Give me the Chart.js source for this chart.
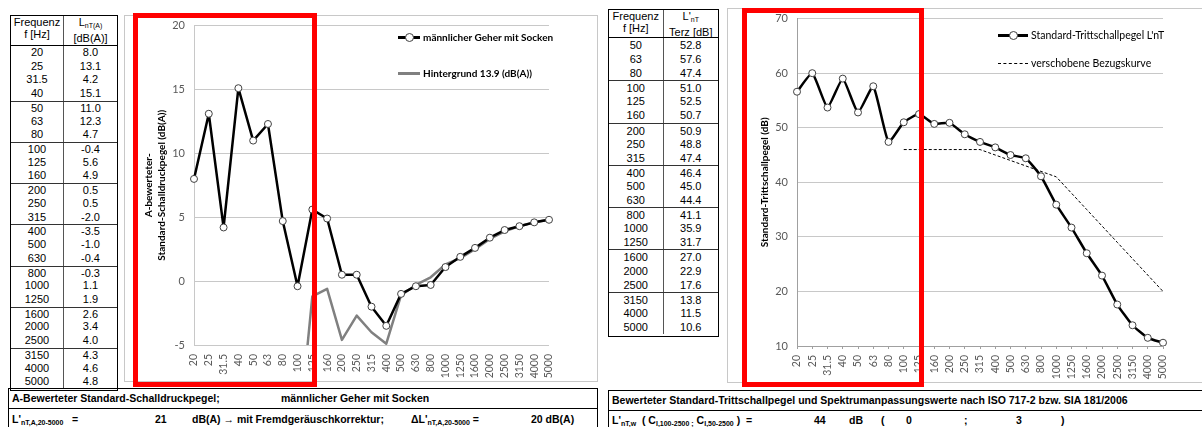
<!DOCTYPE html>
<html>
<head>
<meta charset="utf-8">
<script src="https://cdn.jsdelivr.net/npm/chart.js@4.4.1/dist/chart.umd.min.js"></script>
<style>
  body { margin: 0; width: 1202px; height: 427px; position: relative; overflow: hidden; background: #fff;
         font-family: "Liberation Sans", Arial, sans-serif; color: #000; }
  .abs { position: absolute; }
  .tbl { position: absolute; border: 1.5px solid #000; font-size: 11px; box-sizing: border-box; }
  .row { display: flex; box-sizing: border-box; }
  .row div { box-sizing: border-box; text-align: center; }
  .row div:first-child { border-right: 1px solid #555; }
  .hdr { border-bottom: 1px solid #000; line-height: 12px; overflow: hidden; }
  .sep { border-top: 1px solid #333; }
  .box { position: absolute; border: 1px solid #c8c8c8; box-sizing: border-box; }
  .red { position: absolute; border: 5.5px solid #ff0000; box-sizing: border-box; }
  .lg { position: absolute; font-family: Lato, sans-serif; font-size: 10px; white-space: nowrap; line-height: 12px; }
  .bottom { position: absolute; border: 1.5px solid #000; box-sizing: border-box; font-weight: bold; font-size: 10.5px; }
  .bottom .r1 { height: 19px; border-bottom: 1.5px solid #000; position: relative; }
  .bottom .r2 { height: 22px; position: relative; }
  .bottom span { position: absolute; white-space: nowrap; }
  sub { font-size: 7px; vertical-align: -2px; }
</style>
</head>
<body>

<!-- left panel -->
<div id="tblLeft" class="tbl" style="left:10px;top:15px;width:108px;height:376px;"></div>
<div class="box" style="left:124px;top:15px;width:474px;height:367px;"></div>
<canvas id="leftChart" class="abs" style="left:124px;top:10px;"></canvas>
<div class="abs" style="left:398px;top:36px;width:22px;height:3px;background:#000"></div>
<div class="abs" style="left:405px;top:33px;width:7px;height:7px;border:1px solid #404040;border-radius:50%;background:#fff"></div>
<div class="lg" style="left:423px;top:31px;font-weight:bold">männlicher Geher mit Socken</div>
<div class="abs" style="left:398px;top:72px;width:22px;height:3px;background:#808080"></div>
<div class="lg" style="left:423px;top:67px;font-weight:bold">Hintergrund 13.9 (dB(A))</div>
<div class="red" style="left:133px;top:13px;width:184px;height:374px;"></div>

<div class="bottom" style="left:8px;top:388px;width:590px;height:50px;">
  <div class="r1">
    <span style="left:3px;top:3px">A-Bewerteter Standard-Schalldruckpegel;</span>
    <span style="left:272px;top:3px">männlicher Geher mit Socken</span>
  </div>
  <div class="r2">
    <span style="left:3px;top:4px">L'<sub>nT,A,20-5000</sub> &nbsp;&nbsp;=</span>
    <span style="left:146px;top:4px">21</span>
    <span style="left:183px;top:4px">dB(A) → mit Fremdgeräuschkorrektur;</span>
    <span style="left:402px;top:4px">ΔL'<sub>nT,A,20-5000</sub> =</span>
    <span style="left:522px;top:4px">20 dB(A)</span>
  </div>
</div>

<!-- right panel -->
<div id="tblRight" class="tbl" style="left:608px;top:9px;width:111px;height:328px;"></div>
<div class="box" style="left:727px;top:8px;width:480px;height:375px;"></div>
<canvas id="rightChart" class="abs" style="left:727px;top:3px;"></canvas>
<div class="abs" style="left:998px;top:34px;width:30px;height:3px;background:#000"></div>
<div class="abs" style="left:1009px;top:31px;width:7px;height:7px;border:1px solid #404040;border-radius:50%;background:#fff"></div>
<div class="lg" style="left:1031px;top:29px;font-size:10.5px">Standard-Trittschallpegel L'nT</div>
<div class="abs" style="left:998px;top:63px;width:30px;height:0;border-top:1px dashed #000"></div>
<div class="lg" style="left:1031px;top:57px;font-size:10.5px">verschobene Bezugskurve</div>
<div class="red" style="left:742px;top:8px;width:182px;height:379px;"></div>

<div class="bottom" style="left:608px;top:390px;width:600px;height:50px;">
  <div class="r1">
    <span style="left:3px;top:3px">Bewerteter Standard-Trittschallpegel und Spektrumanpassungswerte nach ISO 717-2 bzw. SIA 181/2006</span>
  </div>
  <div class="r2">
    <span style="left:3px;top:3px">L'<sub>nT,w</sub> &nbsp;( C<sub>I,100-2500 ;</sub> C<sub>I,50-2500</sub> ) &nbsp;=</span>
    <span style="left:205px;top:3px">44</span>
    <span style="left:240px;top:3px">dB</span>
    <span style="left:272px;top:3px">(</span>
    <span style="left:297px;top:3px">0</span>
    <span style="left:355px;top:3px">;</span>
    <span style="left:407px;top:3px">3</span>
    <span style="left:452px;top:3px">)</span>
  </div>
</div>

<script>
// third-octave bands shown on both charts
const freqLabels = ['20', '25', '31.5', '40', '50', '63', '80', '100', '125', '160', '200', '250', '315',
  '400', '500', '630', '800', '1000', '1250', '1600', '2000', '2500', '3150', '4000', '5000'];

// left: A-weighted standard sound pressure level, walker with socks
const walkerLevels = [8.0, 13.1, 4.2, 15.1, 11.0, 12.3, 4.7, -0.4, 5.6, 4.9, 0.5, 0.5, -2.0,
  -3.5, -1.0, -0.4, -0.3, 1.1, 1.9, 2.6, 3.4, 4.0, 4.3, 4.6, 4.8];
// background noise
const backgroundLevels = [null, null, null, null, null, null, null, -13, -1.2, -0.6, -4.6, -2.7, -4.0,
  -4.9, -1.1, -0.3, 0.3, 1.3, 1.8, 2.5, 3.3, 3.9, 4.3, 4.6, 4.8];

// right: standard impact sound level L'nT
const impactLevels = [56.6, 60.0, 53.7, 59.0, 52.8, 57.6, 47.4, 51.0, 52.5, 50.7, 50.9, 48.8, 47.4,
  46.4, 45.0, 44.4, 41.1, 35.9, 31.7, 27.0, 22.9, 17.6, 13.8, 11.5, 10.6];
// shifted reference curve (ISO 717-2)
const referenceCurve = [null, null, null, null, null, null, null, 46, 46, 46, 46, 46, 46,
  45, 44, 43, 42, 41, 38, 35, 32, 29, 26, 23, 20];

const leftTableStart = 0;   // table lists 20..5000
const rightTableStart = 4;  // table lists 50..5000

function buildTable(el, head1, head2, start, values, headH, rowH, firstGroup) {
  let html = `<div class="row hdr" style="height:${headH}px">` +
    `<div style="width:50%">${head1}</div><div style="width:50%">${head2}</div></div>`;
  for (let i = start; i < freqLabels.length; i++) {
    const k = i - start;
    const sep = (k >= firstGroup && (k - firstGroup) % 3 === 0 && k > 0) ? ' sep' : '';
    html += `<div class="row${sep}" style="height:${rowH}px;line-height:${rowH}px">` +
      `<div style="width:50%">${freqLabels[i]}</div><div style="width:50%">${values[i].toFixed(1)}</div></div>`;
  }
  el.innerHTML = html;
}

buildTable(document.getElementById('tblLeft'), 'Frequenz<br>f [Hz]',
  'L<sub>nT(A)</sub><br>[dB(A)]', leftTableStart, walkerLevels, 30, 13.72, 4);
buildTable(document.getElementById('tblRight'), 'Frequenz<br>f [Hz]',
  "L'<sub>nT</sub><br>Terz [dB]", rightTableStart, impactLevels, 28, 14.1, 3);

Chart.defaults.font.family = 'Lato, sans-serif';
Chart.defaults.animation = false;

function fixedWidth(w) { return scale => { scale.width = w; }; }
function fixedHeight(h) { return scale => { scale.height = h; }; }

// left chart (top of plot = canvas top + y label padding)
const lc = document.getElementById('leftChart');
lc.width = 470; lc.height = 373;
new Chart(lc, {
  type: 'line',
  data: {
    labels: freqLabels,
    datasets: [{
      label: 'männlicher Geher mit Socken',
      data: walkerLevels,
      borderColor: '#000',
      borderWidth: 2.5,
      borderJoinStyle: 'round',
      pointRadius: 3.5,
      pointBorderWidth: 1,
      pointBorderColor: '#404040',
      pointBackgroundColor: '#fff',
      tension: 0
    }, {
      label: 'Hintergrund 13.9 (dB(A))',
      data: backgroundLevels,
      borderColor: '#808080',
      borderWidth: 2.5,
      borderJoinStyle: 'round',
      pointRadius: 0,
      tension: 0
    }]
  },
  options: {
    responsive: false,
    layout: { padding: { left: 0, top: 0, right: 45, bottom: 0 } },
    plugins: { legend: { display: false }, tooltip: { enabled: false } },
    scales: {
      x: {
        offset: false,
        grid: { display: false, drawTicks: false },
        border: { display: false },
        ticks: { color: '#595959', font: { size: 10.5 }, maxRotation: 90, minRotation: 90, padding: 9, autoSkip: false },
        afterFit: fixedHeight(38)
      },
      y: {
        min: -5, max: 20,
        ticks: { stepSize: 5, color: '#595959', font: { size: 11 }, padding: 9 },
        grid: { color: '#c8c8c8', drawTicks: false },
        border: { color: '#c8c8c8' },
        title: {
          display: true,
          text: ['A-bewerteter-', 'Standard-Schalldruckpegel (dB(A))'],
          color: '#000', font: { size: 10, weight: 'bold', lineHeight: 1.25 },
          padding: { top: 19 }
        },
        afterFit: fixedWidth(70)
      }
    }
  }
});

// right chart
const rc = document.getElementById('rightChart');
rc.width = 475; rc.height = 381;
new Chart(rc, {
  type: 'line',
  data: {
    labels: freqLabels,
    datasets: [{
      label: "Standard-Trittschallpegel L'nT",
      data: impactLevels,
      borderColor: '#000',
      borderWidth: 2.5,
      borderJoinStyle: 'round',
      pointRadius: 3.5,
      pointBorderWidth: 1,
      pointBorderColor: '#404040',
      pointBackgroundColor: '#fff',
      tension: 0.15
    }, {
      label: 'verschobene Bezugskurve',
      data: referenceCurve,
      borderColor: '#000',
      borderWidth: 1,
      borderDash: [3, 2],
      pointRadius: 0,
      tension: 0
    }]
  },
  options: {
    responsive: false,
    layout: { padding: { left: 0, top: 0, right: 39, bottom: 0 } },
    plugins: { legend: { display: false }, tooltip: { enabled: false } },
    scales: {
      x: {
        offset: false,
        grid: { display: true, drawOnChartArea: false, drawTicks: true, tickLength: 3, color: '#a0a0a0' },
        border: { color: '#a0a0a0' },
        ticks: { color: '#595959', font: { size: 10.5 }, maxRotation: 90, minRotation: 90, padding: 6, autoSkip: false },
        afterFit: fixedHeight(38)
      },
      y: {
        min: 10, max: 70,
        ticks: { stepSize: 10, color: '#595959', font: { size: 11 }, padding: 9 },
        grid: { color: '#c8c8c8', drawTicks: false },
        border: { color: '#a0a0a0' },
        title: {
          display: true,
          text: 'Standard-Trittschallpegel (dB)',
          color: '#000', font: { size: 10, weight: 'bold', lineHeight: 1.25 },
          padding: { top: 32 }
        },
        afterFit: fixedWidth(70)
      }
    }
  }
});
</script>
</body>
</html>
